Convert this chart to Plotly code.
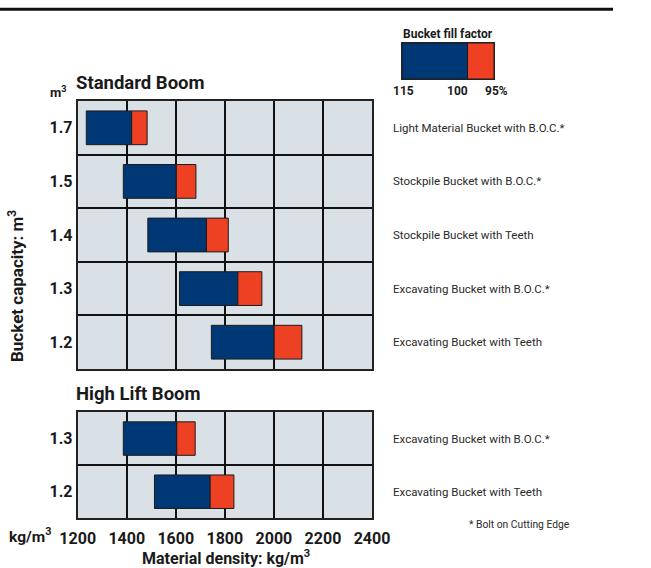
import plotly.graph_objects as go

# ---------------- data ----------------
std_caps = ["1.7", "1.5", "1.4", "1.3", "1.2"]
std_names = ["Light Material Bucket with B.O.C.*",
             "Stockpile Bucket with B.O.C.*",
             "Stockpile Bucket with Teeth",
             "Excavating Bucket with B.O.C.*",
             "Excavating Bucket with Teeth"]
std_115 = [1235, 1386, 1486, 1615, 1745]
std_100 = [1420, 1602, 1725, 1853, 2001]
std_95 = [1483, 1682, 1814, 1951, 2114]

hl_caps = ["1.3", "1.2"]
hl_names = ["Excavating Bucket with B.O.C.*",
            "Excavating Bucket with Teeth"]
hl_115 = [1386, 1513]
hl_100 = [1604, 1740]
hl_95 = [1679, 1837]

x_ticks = [1200, 1400, 1600, 1800, 2000, 2200, 2400]
fill_factors = [115, 100, 95]
fill_labels = ["115", "100", "95%"]

# ---------------- style ----------------
W, H = 651, 568
BLUE = "#003775"
RED = "#EE4124"
BG = "#D9E0E6"
INK = "#1a1a1a"
FONT = "Roboto, Liberation Sans, sans-serif"

def px_x(p):
    return p / W

def px_y(p):
    return 1 - p / H

fig = go.Figure()

def add_panel(caps, lo, mid, hi, xa, ya):
    fig.add_trace(go.Bar(
        y=caps, base=lo, x=[m - l for l, m in zip(lo, mid)], orientation="h",
        marker=dict(color=BLUE, line=dict(color="#1b1b1b", width=1)),
        width=0.63, xaxis=xa, yaxis=ya, showlegend=False, hoverinfo="skip"))
    fig.add_trace(go.Bar(
        y=caps, base=mid, x=[h - m for m, h in zip(mid, hi)], orientation="h",
        marker=dict(color=RED, line=dict(color="#1b1b1b", width=1)),
        width=0.63, xaxis=xa, yaxis=ya, showlegend=False, hoverinfo="skip"))

add_panel(std_caps, std_115, std_100, std_95, "x", "y")
add_panel(hl_caps, hl_115, hl_100, hl_95, "x2", "y2")

# legend box drawn on its own small axis (1/fill-factor scale)
inv = [100.0 / f for f in fill_factors]
fig.add_trace(go.Bar(y=[0], base=[inv[0]], x=[inv[1] - inv[0]], orientation="h",
                     marker=dict(color=BLUE, line=dict(color="#1b1b1b", width=1)),
                     width=1, xaxis="x3", yaxis="y3", showlegend=False, hoverinfo="skip"))
fig.add_trace(go.Bar(y=[0], base=[inv[1]], x=[inv[2] - inv[1]], orientation="h",
                     marker=dict(color=RED, line=dict(color="#1b1b1b", width=1)),
                     width=1, xaxis="x3", yaxis="y3", showlegend=False, hoverinfo="skip"))

xdom = [px_x(77.7), px_x(372)]
tick_font = dict(family=FONT, size=16, color=INK, weight="bold")

common_x = dict(domain=xdom, range=[x_ticks[0], x_ticks[-1]], tickmode="array",
                tickvals=x_ticks, ticktext=[str(v) for v in x_ticks],
                showgrid=True, gridcolor="#111", gridwidth=1.6,
                showline=True, mirror=True, linecolor="#222", linewidth=2,
                zeroline=False, ticks="outside", ticklen=4, tickcolor="rgba(0,0,0,0)",
                tickangle=0, automargin=False, fixedrange=True)
common_y = dict(type="category", autorange="reversed", tickson="boundaries",
                showgrid=True, gridcolor="#111", gridwidth=1.6,
                showline=True, mirror=True, linecolor="#222", linewidth=2,
                ticks="outside", ticklen=8, tickcolor="rgba(0,0,0,0)",
                tickfont=tick_font, zeroline=False, automargin=False, fixedrange=True)

fig.update_layout(
    width=W, height=H, margin=dict(l=0, r=0, t=0, b=0),
    paper_bgcolor="white", plot_bgcolor=BG, barmode="overlay",
    font=dict(family=FONT, color=INK),
    xaxis=dict(common_x, anchor="y", showticklabels=False),
    yaxis=dict(common_y, anchor="x", domain=[px_y(369), px_y(101)],
               categoryorder="array", categoryarray=std_caps),
    xaxis2=dict(common_x, anchor="y2", showticklabels=True, tickfont=tick_font),
    yaxis2=dict(common_y, anchor="x2", domain=[px_y(518.3), px_y(412)],
                categoryorder="array", categoryarray=hl_caps),
    xaxis3=dict(domain=[px_x(402), px_x(494)], range=[inv[0], inv[2]], anchor="y3",
                showgrid=False, showticklabels=False, zeroline=False, automargin=False,
                showline=True, mirror=True, linecolor="#222", linewidth=1, fixedrange=True),
    yaxis3=dict(domain=[px_y(79), px_y(43)], range=[-0.5, 0.5], anchor="x3",
                showgrid=False, showticklabels=False, zeroline=False, automargin=False,
                showline=True, mirror=True, linecolor="#222", linewidth=1, fixedrange=True),
)

# top rule
fig.add_shape(type="line", xref="paper", yref="paper", x0=0, x1=px_x(613),
              y0=px_y(9.3), y1=px_y(9.3), line=dict(color="#111", width=3))

ann = []
label_font = dict(family=FONT, size=11.5, color="#2a2a2a")
# right-hand bucket names (category index positions)
for i, name in enumerate(std_names):
    ann.append(dict(xref="paper", yref="y", x=px_x(391), y=i, text=name,
                    xanchor="left", yanchor="middle", showarrow=False, font=label_font))
for i, name in enumerate(hl_names):
    ann.append(dict(xref="paper", yref="y2", x=px_x(391), y=i, text=name,
                    xanchor="left", yanchor="middle", showarrow=False, font=label_font))

bold = lambda s: dict(family=FONT, size=s, color=INK, weight="bold")
ann += [
    dict(xref="paper", yref="paper", x=px_x(74), y=px_y(83), text="Standard Boom",
         xanchor="left", yanchor="middle", showarrow=False, font=bold(18.5)),
    dict(xref="paper", yref="paper", x=px_x(74), y=px_y(394), text="High Lift Boom",
         xanchor="left", yanchor="middle", showarrow=False, font=bold(18.5)),
    dict(xref="paper", yref="paper", x=px_x(58), y=px_y(92), text="m<sup>3</sup>",
         xanchor="center", yanchor="middle", showarrow=False, font=bold(13)),
    dict(xref="paper", yref="paper", x=px_x(16), y=px_y(286), text="Bucket capacity: m<sup>3</sup>",
         textangle=-90, xanchor="center", yanchor="middle", showarrow=False, font=bold(17)),
    dict(xref="paper", yref="paper", x=px_x(30), y=px_y(535), text="kg/m<sup>3</sup>",
         xanchor="center", yanchor="middle", showarrow=False, font=bold(15.5)),
    dict(xref="paper", yref="paper", x=px_x(226), y=px_y(557), text="Material density: kg/m<sup>3</sup>",
         xanchor="center", yanchor="middle", showarrow=False, font=bold(16)),
    dict(xref="paper", yref="paper", x=px_x(448), y=px_y(34), text="Bucket fill factor",
         xanchor="center", yanchor="middle", showarrow=False, font=bold(12)),
    dict(xref="paper", yref="paper", x=px_x(519), y=px_y(524), text="* Bolt on Cutting Edge",
         xanchor="center", yanchor="middle", showarrow=False,
         font=dict(family=FONT, size=10.3, color="#2a2a2a")),
]
anchors = ["center", "right", "center"]
shifts = [1, 2, 2]
for f, lab, a, s in zip(inv, fill_labels, anchors, shifts):
    ann.append(dict(xref="x3", yref="paper", x=f, y=px_y(91), text=lab, xshift=s,
                    xanchor=a, yanchor="middle", showarrow=False, font=bold(12)))

fig.update_layout(annotations=ann)
fig.write_html("out.html", config={"displayModeBar": False},
               post_script="document.body.style.margin='0';document.body.style.overflow='hidden';")
